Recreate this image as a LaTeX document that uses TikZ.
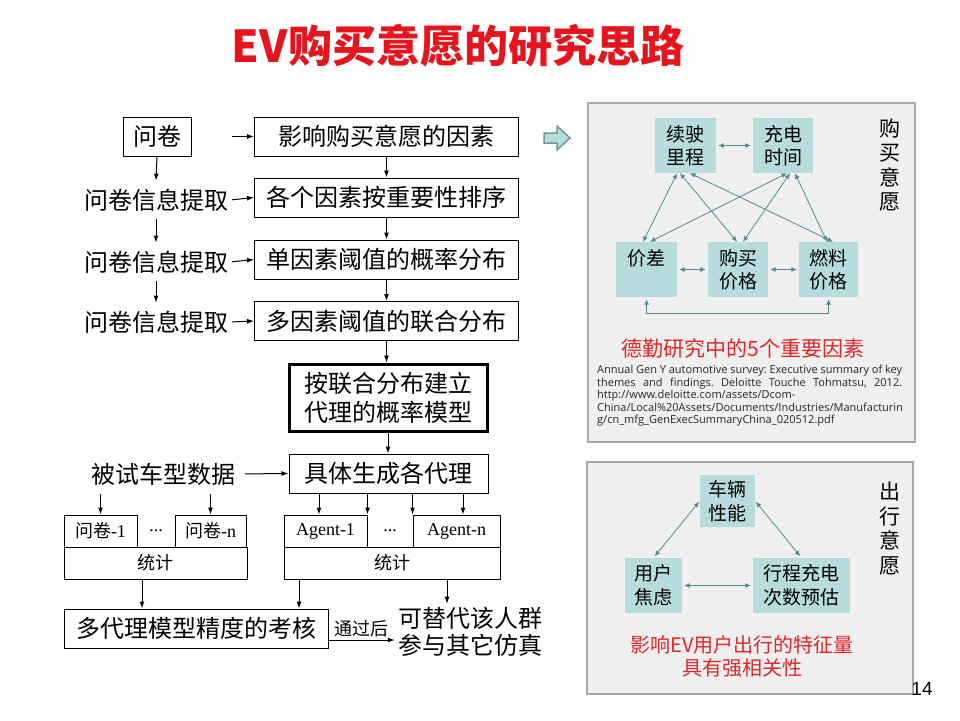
\documentclass[tikz,border=0pt]{standalone}
\usepackage{fontspec}
\setmainfont{Noto Sans CJK SC}
\newfontfamily\tms{Liberation Serif}
\newfontfamily\opn{Open Sans}
\newfontfamily\lsans{Liberation Sans}
\usetikzlibrary{arrows.meta}
\newcommand\fsz[2]{\fontsize{#1}{#2}\selectfont}
\definecolor{panelbg}{RGB}{239,239,239}
\definecolor{panelln}{RGB}{168,168,168}
\definecolor{tealbox}{RGB}{183,220,221}
\definecolor{tealarr}{RGB}{84,140,140}
\definecolor{titlered}{RGB}{230,20,28}
\definecolor{notered}{RGB}{222,40,40}
\definecolor{hollowln}{RGB}{120,150,150}
\frenchspacing
\begin{document}
\begin{tikzpicture}[x=1pt,y=-1pt,
  box/.style={draw, line width=1pt, minimum height=39pt, inner sep=0pt, font=\fsz{24}{28}},
  sbox/.style={draw, line width=1pt, minimum height=32pt, inner sep=0pt, font=\fsz{18}{22}},
  lbl/.style={inner xsep=2pt, inner ysep=8pt, font=\fsz{24}{28}},
  arr/.style={-{Latex[length=7pt,width=5pt]}, line width=1pt},
  panel/.style={draw=panelln, fill=panelbg, line width=1.2pt, inner sep=0pt},
  tbox/.style={fill=tealbox, inner sep=0pt, align=center, font=\fsz{19}{23}},
  tarr/.style={{Latex[length=5.5pt,width=5pt]}-{Latex[length=5.5pt,width=5pt]}, draw=tealarr, line width=0.8pt},
  vtext/.style={align=center, font=\fsz{21}{24.5}},
  note/.style={text=notered, align=center, font=\fsz{20}{23}}
]
\useasboundingbox (0,0) rectangle (960,720);
\fill[white] (0,0) rectangle (960,720);

% title
\node[font=\fsz{44}{52}\bfseries, text=titlered] (title) at (458,46) {EV购买意愿的研究思路};

% left flow
\node[box, minimum width=68pt] (q0) at (157,136.5) {问卷};
\node[box, minimum width=264pt] (b1) at (386.5,136.5) {影响购买意愿的因素};
\coordinate (q0r) at (232,136.5);
\draw[arr] (q0r) -- (b1.west);

\node[lbl] (t1) at (156,200) {问卷信息提取};
\node[box, minimum width=264pt] (b2) at (386.5,197.5) {各个因素按重要性排序};
\node[lbl] (t2) at (156,262) {问卷信息提取};
\node[box, minimum width=264pt] (b3) at (386.5,259.5) {单因素阈值的概率分布};
\node[lbl] (t3) at (156,322) {问卷信息提取};
\node[box, minimum width=264pt] (b4) at (386.5,321) {多因素阈值的联合分布};

\draw[arr] (q0.south) -- (t1.north);
\draw[arr] (t1.south) -- (t2.north);
\draw[arr] (t2.south) -- (t3.north);
\draw[arr, shorten <=2pt] (t1.east) -- (b2.west);
\draw[arr, shorten <=2pt] (t2.east) -- (b3.west);
\draw[arr, shorten <=2pt] (t3.east) -- (b4.west);
\draw[arr] (b1.south) -- (b2.north);
\draw[arr] (b2.south) -- (b3.north);
\draw[arr] (b3.south) -- (b4.north);

\node[box, line width=3pt, minimum width=198pt, minimum height=67pt, align=center, font=\fsz{24}{29}] (b5) at (388,397.5) {按联合分布建立\\代理的概率模型};
\draw[arr] (b4.south) -- (b4.south |- b5.north);
\node[box, minimum width=199pt] (b6) at (388.5,473.5) {具体生成各代理};
\draw[arr] (b5.south) -- (b5.south |- b6.north);

\node[lbl, minimum height=39pt, inner ysep=0pt] (data) at (163,474) {被试车型数据};
\draw[arr, shorten <=8pt] (data.east) -- (b6.west);

% left table
\node[sbox, minimum width=73pt] (q1) at (100.5,531) {问卷{\tms -1}};
\node[sbox, minimum width=71pt] (qn) at (210.5,531) {问卷{\tms -n}};
\node[font=\tms\fsz{18}{22}] (dl) at (156,531) {...};
\node[sbox, minimum width=183pt] (s1) at (155.5,563) {统计};
\draw[arr] (q1.north |- data.south) -- (q1.north);
\draw[arr] (qn.north |- data.south) -- (qn.north);

% right table
\node[sbox, minimum width=83pt, font=\tms\fsz{18}{22}] (a1) at (325.5,531) {Agent-1};
\node[sbox, minimum width=87pt, font=\tms\fsz{18}{22}] (an) at (456.5,531) {Agent-n};
\node[font=\tms\fsz{18}{22}] (dr) at (390,531) {...};
\node[sbox, minimum width=216pt] (s2) at (392,563) {统计};
\draw[arr] ([xshift=-69.5pt]b6.south) -- ([xshift=-69.5pt]b6.south |- a1.north);
\draw[arr] (b6.south -| a1.north east) -- (a1.north east);
\draw[arr] (b6.south -| an.north west) -- (an.north west);
\draw[arr] ([xshift=74.5pt]b6.south) -- ([xshift=74.5pt]b6.south |- an.north);

% evaluation
\node[box, minimum width=264pt] (m) at (196,628.5) {多代理模型精度的考核};
\node[align=center, inner sep=3pt, font=\fsz{24}{27}] (alt) at (470,631.5) {可替代该人群\\参与其它仿真};
\draw[arr] ([xshift=-13.5pt]s1.south) -- ([xshift=-13.5pt]s1.south |- m.north);
\draw[arr] ([xshift=-93pt]s2.south) -- ([xshift=-93pt]s2.south |- m.north);
\draw[arr] ([xshift=55pt]s2.south) -- ([xshift=55pt]s2.south |- alt.north);
\draw[arr] ([yshift=-11.5pt]m.east) -- node[midway, above=-1pt, font=\fsz{18}{22}] {通过后} ([yshift=-11.5pt]m.east -| alt.west);

% hollow arrow
\draw[fill=tealbox, draw=hollowln, line width=1.5pt, line join=miter] (544,133) -- (557,133) -- (557,126) -- (570,138) -- (557,150) -- (557,143) -- (544,143) -- cycle;

% top right panel
\node[panel, minimum width=327pt, minimum height=339pt] (p1) at (751.5,272.5) {};
\node[tbox, minimum width=61pt, minimum height=55pt] (xs) at (685.5,145.5) {续驶\\里程};
\node[tbox, minimum width=60pt, minimum height=55pt] (cd) at (783,145.5) {充电\\时间};
\node[tbox, minimum width=61pt, minimum height=55pt] (jc) at (646.5,269.5) {价差\\\phantom{价差}};
\node[tbox, minimum width=60pt, minimum height=55pt] (gm) at (738,269.5) {购买\\价格};
\node[tbox, minimum width=59pt, minimum height=55pt] (rl) at (828.5,269.5) {燃料\\价格};
\draw[tarr, shorten <=2pt, shorten >=2pt] (xs.east) -- (cd.west);
\draw[tarr, shorten <=2pt, shorten >=2pt] (jc.east) -- (gm.west);
\draw[tarr, shorten <=2pt, shorten >=2pt] (gm.east) -- (rl.west);
\draw[tarr] ([yshift=-2pt]jc.south) -- ([yshift=-16pt]jc.south) -| ([yshift=-2pt]rl.south);
\draw[tarr] ([xshift=-8.5pt]xs.south) -- ([xshift=-3.5pt]jc.north);
\draw[tarr] ([xshift=-5.5pt]xs.south) -- ([xshift=-1pt]gm.north);
\draw[tarr] ([xshift=4.5pt]xs.south) -- ([xshift=4.5pt]rl.north);
\draw[tarr] ([xshift=4pt]cd.south) -- ([xshift=3.5pt]jc.north);
\draw[tarr] ([xshift=7pt]cd.south) -- ([xshift=5pt]gm.north);
\draw[tarr] ([xshift=12pt]cd.south) -- ([xshift=-1.5pt]rl.north);
\node[vtext] (v1) at (890,165) {购\\买\\意\\愿};
\node[note, font=\fsz{21}{24}] (n1) at (743,348) {德勤研究中的5个重要因素};
\node[anchor=north west, inner sep=0pt, align=left, font=\opn\fsz{11}{12.5}, text=black!85] (cite) at (597,365)
  {\makebox[305pt][s]{Annual Gen Y automotive survey: Executive summary of key}\\
   \makebox[305pt][s]{themes and findings. Deloitte Touche Tohmatsu, 2012.}\\
   http://www.deloitte.com/assets/Dcom-\\
   China/Local\%20Assets/Documents/Industries/Manufacturin\\
   g/cn\_mfg\_GenExecSummaryChina\_020512.pdf};

% bottom right panel
\node[panel, minimum width=326pt, minimum height=232pt] (p2) at (750,578) {};
\node[tbox, minimum width=55pt, minimum height=52pt, font=\fsz{19}{24}] (cl) at (727.5,501) {车辆\\性能};
\node[tbox, minimum width=57pt, minimum height=55pt, font=\fsz{19}{24}] (yh) at (653.5,585.5) {用户\\焦虑};
\node[tbox, minimum width=97pt, minimum height=55pt, font=\fsz{19}{24}] (xc) at (801.5,585.5) {行程充电\\次数预估};
\draw[tarr, shorten <=1pt, shorten >=2pt] (cl.west) -- (yh.north);
\draw[tarr, shorten <=1pt, shorten >=2pt] (cl.east) -- (xc.north);
\draw[tarr, shorten <=2pt, shorten >=2pt] (yh.east) -- (xc.west);
\node[vtext] (v2) at (890,528.5) {出\\行\\意\\愿};
\node[note] (n2) at (742,656.5) {影响EV用户出行的特征量\\具有强相关性};

% page number
\node[font=\lsans\fsz{19}{22}] (pg) at (922,689) {14};
\end{tikzpicture}
\end{document}
